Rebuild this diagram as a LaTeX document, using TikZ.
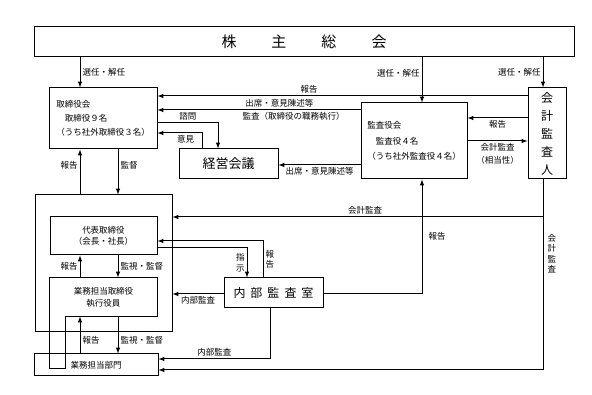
\documentclass[tikz,border=0pt]{standalone}
\usepackage{fontspec}
\setmainfont{Noto Sans CJK JP}
\usetikzlibrary{arrows, positioning, calc}

\begin{document}
\begin{tikzpicture}[x=1pt, y=-1pt, >=latex, line width=1pt,
					unitbox/.style={rectangle, draw, inner sep=0pt, font=\fontsize{8.5}{14}\selectfont},
					lbl/.style={font=\fontsize{8.5}{10}\selectfont, inner sep=2pt},
					vlbl/.style={lbl, align=center, font=\fontsize{8.5}{10.5}\selectfont},
					arrow/.style={->}
				]
					\useasboundingbox (0,0) rectangle (592,395);
					
					% Nodes
					\node[unitbox, minimum width=540, minimum height=30, font=\fontsize{15}{18}\selectfont] (meeting) at (304,42) {株\hspace{35pt}主\hspace{35pt}総\hspace{35pt}会};
					\node[unitbox, minimum width=108, minimum height=61, align=left] (board) at (103,118.5) {取締役会\\\hspace{8.5pt}取締役９名\\（うち社外取締役３名）};
					\node[unitbox, minimum width=99, minimum height=30, font=\fontsize{13}{15}\selectfont] (council) at (228.5,164) {経営会議};
					\node[unitbox, minimum width=106, minimum height=76, align=left, font=\fontsize{8.5}{15.5}\selectfont] (kansa) at (414,141) {監査役会\\\hspace{8.5pt}監査役４名\\（うち社外監査役４名）};
					\node[unitbox, minimum width=38, minimum height=91, align=center, font=\fontsize{12}{18}\selectfont] (auditor) at (547,133.5) {会\\計\\監\\査\\人};
					\node[unitbox, minimum width=137, minimum height=137] (exec) at (103.5,263.5) {};
					\node[unitbox, minimum width=107, minimum height=38, align=center, font=\fontsize{8.5}{11.5}\selectfont] (rep) at (103.5,236) {代表取締役\\（会長・社長）};
					\node[unitbox, draw=none, minimum width=107, minimum height=38, align=center, font=\fontsize{8.5}{12}\selectfont] (bizdir) at (103.5,297) {業務担当取締役\\執行役員};
					\node[unitbox, minimum width=124, minimum height=22, font=\fontsize{8.5}{10}\selectfont] (dept) at (96,365) {業務担当部門};
					\node[unitbox, minimum width=99, minimum height=30, font=\fontsize{12}{14}\selectfont] (internal) at (273.5,293) {内\hspace{5pt}部\hspace{5pt}監\hspace{5pt}査\hspace{5pt}室};
					
					% Lanes
					\coordinate (c1) at (80,0);
					\coordinate (c2) at (118,0);
					\coordinate (c3) at (422,0);
					\coordinate (c4) at (543,0);
					\coordinate (c5) at (218,0);
					\coordinate (c6) at (202,0);
					\coordinate (c7) at (247,0);
					\coordinate (c8) at (263,0);
					\coordinate (c9) at (270,0);
					\coordinate (tail) at (65,369);
					\coordinate (yA) at (0,96);
					\coordinate (yB) at (0,110);
					\coordinate (yC) at (0,123);
					\coordinate (yD) at (0,133);
					\coordinate (yE) at (0,165);
					\coordinate (yF) at (0,118);
					\coordinate (yG) at (0,141);
					\coordinate (yH) at (0,217);
					\coordinate (yI) at (0,241);
					\coordinate (yJ) at (0,248);
					\coordinate (yK) at (0,294);
					\coordinate (yL) at (0,359);
					\coordinate (yM) at (0,370);
					
					% Officers box with tail into the department
					\draw (bizdir.north west) -- (bizdir.north east) -- (bizdir.south east) -- (bizdir.south east -| tail) -- (tail) -- (tail -| bizdir.west) -- cycle;
					
					% Arrows
					\draw[arrow] (c1 |- meeting.south) -- node[lbl, midway, right]{選任・解任} (c1 |- board.north);
					\draw[arrow] (c3 |- meeting.south) -- node[lbl, pos=0.35, left]{選任・解任} (c3 |- kansa.north);
					\draw[arrow] (c4 |- meeting.south) -- node[lbl, midway, left]{選任・解任} (c4 |- auditor.north);
					\draw[arrow] (auditor.west |- yA) -- node[lbl, pos=0.59, above]{報告} (board.east |- yA);
					\draw[arrow] (kansa.west |- yB) -- node[lbl, pos=0.4, above]{出席・意見陳述等} node[lbl, pos=0.33, below]{監査（取締役の職務執行）} (board.east |- yB);
					\draw[arrow] (board.east |- yC) -- node[lbl, above]{諮問} (c5 |- yC) -- (c5 |- council.north);
					\draw[arrow] (c6 |- council.north) -- (c6 |- yD) -- node[lbl, pos=0.37, below]{意見} (board.east |- yD);
					\draw[arrow] (kansa.west |- yE) -- node[lbl, midway, below]{出席・意見陳述等} (council.east |- yE);
					\draw[arrow] (auditor.west |- yF) -- node[lbl, midway, below]{報告} (kansa.east |- yF);
					\draw[arrow] (kansa.east |- yG) -- node[lbl, midway, below, align=center, font=\fontsize{8.5}{13}\selectfont]{会計監査\\（相当性）} (auditor.west |- yG);
					\draw[arrow] (c1 |- exec.north) -- node[lbl, pos=0.65, left]{報告} (c1 |- board.south);
					\draw[arrow] (c2 |- board.south) -- node[lbl, pos=0.35, right]{監督} (c2 |- exec.north);
					\draw[arrow] (c1 |- bizdir.north) -- node[lbl, midway, left]{報告} (c1 |- rep.south);
					\draw[arrow] (c2 |- rep.south) -- node[lbl, midway, right]{監視・監督} (c2 |- bizdir.north);
					\draw[arrow] (c1 |- dept.north) -- node[lbl, pos=0.35, right]{報告} (c1 |- bizdir.south);
					\draw[arrow] (c2 |- bizdir.south) -- node[lbl, pos=0.65, right]{監視・監督} (c2 |- dept.north);
					\draw[arrow] (rep.east |- yJ) -- (c7 |- yJ) -- node[vlbl, midway, left]{指\\示} (c7 |- internal.north);
					\draw[arrow] (c8 |- internal.north) -- node[vlbl, midway, right]{報\\告} (c8 |- yI) -- (rep.east |- yI);
					\draw[arrow] (internal.west |- yK) -- node[lbl, midway, below]{内部監査} (exec.east |- yK);
					\draw[arrow] (internal.east |- yK) -- (c3 |- yK) -- node[lbl, midway, right, xshift=4pt]{報告} (c3 |- kansa.south);
					\draw[arrow] (c9 |- internal.south) -- (c9 |- yL) -- node[lbl, midway, above]{内部監査} (dept.east |- yL);
					\draw[arrow] (c4 |- auditor.south) -- node[vlbl, pos=0.39, right, xshift=2pt]{会\\計\\監\\査} (c4 |- yM) -- (dept.east |- yM);
					\draw[arrow] (c4 |- yH) -- node[lbl, pos=0.48, above]{会計監査} (exec.east |- yH);
				\end{tikzpicture}
\end{document}
